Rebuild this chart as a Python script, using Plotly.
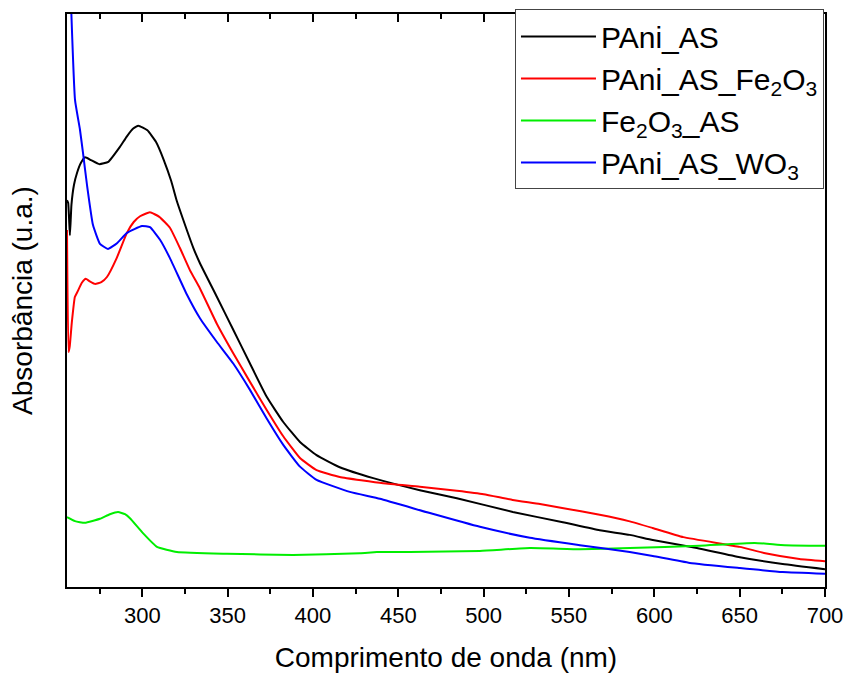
import plotly.graph_objects as go

# Wavelength (nm) and absorbance (arbitrary units)
pani_x = [255.9, 256.6, 257.6, 258.5, 260.0, 261.8, 264.0, 266.5, 270.0, 274.8, 280.1, 286.9,
          290.9, 294.7, 297.7, 303.0, 308.0, 312.5, 317.0, 320.1, 324.0, 329.9, 333.8, 343.6,
          353.3, 363.1, 372.9, 382.6, 392.4, 402.1, 415.7, 435.3, 462.6, 484.3, 517.1, 546.4,
          568.0, 585.6, 599.1, 624.9, 650.1, 675.2, 700.0]
pani_y = [0.675, 0.670, 0.614, 0.667, 0.702, 0.723, 0.740, 0.750, 0.745, 0.738, 0.742, 0.768,
          0.786, 0.800, 0.805, 0.797, 0.777, 0.746, 0.708, 0.675, 0.641, 0.592, 0.565, 0.507,
          0.449, 0.390, 0.332, 0.288, 0.253, 0.230, 0.209, 0.190, 0.169, 0.155, 0.131, 0.113,
          0.099, 0.091, 0.082, 0.068, 0.052, 0.040, 0.031]

fe_x = [255.9, 256.8, 257.5, 258.7, 260.5, 262.0, 264.6, 266.9, 269.0, 272.3, 276.0, 279.3,
        285.0, 291.0, 295.0, 298.7, 304.5, 310.0, 316.2, 322.0, 327.9, 333.8, 343.6, 353.3,
        363.1, 372.9, 382.6, 392.4, 402.1, 415.7, 441.1, 462.6, 484.3, 500.0, 517.0, 533.0,
        546.0, 568.0, 585.0, 599.0, 617.0, 650.0, 665.0, 685.0, 700.0]
fe_y = [0.623, 0.410, 0.420, 0.461, 0.506, 0.515, 0.531, 0.538, 0.534, 0.529, 0.532, 0.541,
        0.574, 0.618, 0.637, 0.647, 0.654, 0.646, 0.627, 0.592, 0.553, 0.521, 0.460, 0.408,
        0.358, 0.309, 0.263, 0.225, 0.204, 0.192, 0.181, 0.175, 0.168, 0.162, 0.152, 0.145,
        0.138, 0.126, 0.115, 0.103, 0.087, 0.070, 0.059, 0.049, 0.045]

feas_x = [255.9, 260.6, 266.4, 275.2, 281.0, 285.8, 289.9, 292.8, 300.4, 308.6, 320.3, 349.6,
          388.3, 427.5, 437.5, 456.8, 497.8, 527.1, 556.4, 585.6, 626.6, 658.8, 676.4, 700.0]
feas_y = [0.122, 0.115, 0.112, 0.119, 0.127, 0.131, 0.127, 0.120, 0.094, 0.070, 0.061, 0.058,
          0.056, 0.059, 0.061, 0.061, 0.063, 0.068, 0.066, 0.068, 0.072, 0.077, 0.073, 0.072]

wo_x = [258.0, 260.6, 263.5, 265.3, 267.6, 271.1, 275.2, 279.9, 285.2, 291.0, 299.8, 304.5,
        310.4, 316.2, 326.2, 333.8, 343.6, 353.3, 363.1, 372.9, 382.6, 392.4, 402.1, 421.6,
        439.2, 468.5, 497.8, 527.1, 556.4, 585.6, 599.1, 620.8, 650.1, 675.2, 700.0]
wo_y = [1.040, 0.850, 0.798, 0.757, 0.702, 0.632, 0.599, 0.590, 0.600, 0.618, 0.630, 0.628,
        0.606, 0.574, 0.510, 0.469, 0.428, 0.390, 0.344, 0.294, 0.248, 0.210, 0.187, 0.166,
        0.154, 0.129, 0.105, 0.086, 0.073, 0.061, 0.054, 0.042, 0.033, 0.026, 0.023]

series = [
    ("PAni_AS", pani_x, pani_y, "#000000"),
    ("PAni_AS_Fe<sub>2</sub>O<sub>3</sub>", fe_x, fe_y, "#ff0000"),
    ("Fe<sub>2</sub>O<sub>3</sub>_AS", feas_x, feas_y, "#00ee00"),
    ("PAni_AS_WO<sub>3</sub>", wo_x, wo_y, "#0000ff"),
]

FONT = "Liberation Sans, Arial, sans-serif"
major = [300, 350, 400, 450, 500, 550, 600, 650, 700]
minor = [275, 325, 375, 425, 475, 525, 575, 625, 675]

fig = go.Figure()
for name, xs, ys, col in series:
    fig.add_trace(go.Scatter(x=xs, y=ys, mode="lines", name=name,
                             line=dict(color=col, width=2, shape="spline", smoothing=0.4)))

# invisible trace for the top (inside-ticks) axis
fig.add_trace(go.Scatter(x=[300], y=[0.5], xaxis="x2", mode="markers",
                         marker=dict(opacity=0), showlegend=False, hoverinfo="skip"))

fig.update_layout(
    width=847, height=673,
    margin=dict(l=67, r=22, t=14, b=86, autoexpand=False),
    paper_bgcolor="white", plot_bgcolor="white",
    font=dict(family=FONT, color="black"),
    showlegend=True,
    legend=dict(x=0.591, y=1.008, xanchor="left", yanchor="top",
                bgcolor="white", bordercolor="#444", borderwidth=1,
                font=dict(size=30, family=FONT), itemwidth=75,
                tracegroupgap=0),
    xaxis=dict(range=[255.9, 700], tickmode="array", tickvals=major,
               ticks="outside", ticklen=8, tickwidth=2, tickcolor="black",
               minor=dict(tickvals=minor, ticks="outside", ticklen=5, tickwidth=2,
                          tickcolor="black"),
               showline=True, linecolor="black", linewidth=2, mirror=True,
               showgrid=False, zeroline=False,
               tickfont=dict(size=22, family=FONT),
               title=dict(text="Comprimento de onda (nm)", font=dict(size=28, family=FONT),
                          standoff=22)),
    xaxis2=dict(overlaying="x", side="top", matches="x", range=[255.9, 700],
                tickmode="array", tickvals=major,
                ticks="inside", ticklen=8, tickwidth=2, tickcolor="black",
                minor=dict(tickvals=minor, ticks="inside", ticklen=5, tickwidth=2,
                           tickcolor="black"),
                showticklabels=False, showgrid=False, zeroline=False, showline=False),
    yaxis=dict(range=[0, 1.0], showticklabels=False, ticks="",
               showline=True, linecolor="black", linewidth=2, mirror=True,
               showgrid=False, zeroline=False,
               title=dict(text="Absorbância (u.a.)", font=dict(size=28, family=FONT),
                          standoff=24)),
)

fig.write_html("out.html")
